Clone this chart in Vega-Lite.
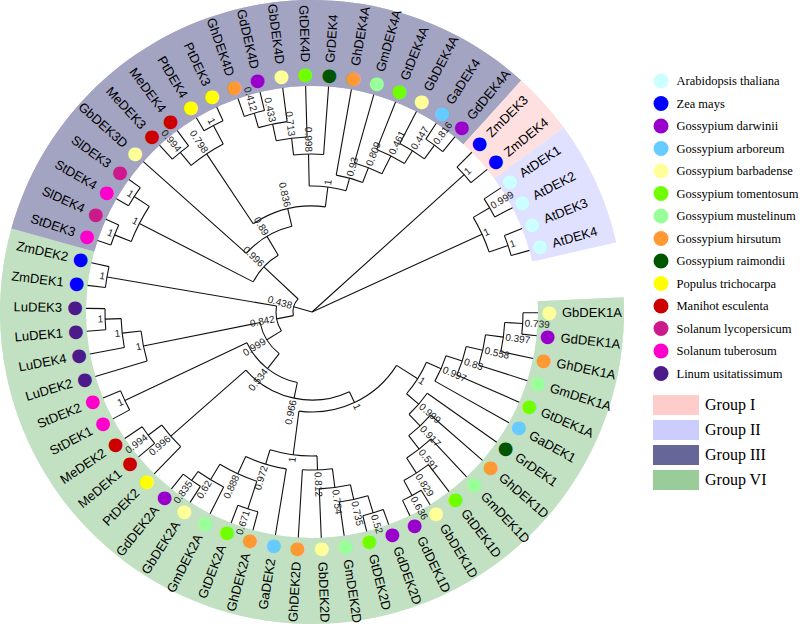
{
  "$schema": "https://vega.github.io/schema/vega-lite/v6.json",
  "width": 624,
  "height": 624,
  "autosize": {"type": "none"},
  "padding": {"left": 0, "top": 0, "right": 176, "bottom": 1},
  "background": "white",
  "config": {"view": {"stroke": null}},
  "datasets": {
    "groups": [
      {"group": "Group VI", "t1": -0.5, "t2": 33.5},
      {"group": "Group III", "t1": 33.5, "t2": 53.5},
      {"group": "Group I", "t1": 53.5, "t2": 55.5},
      {"group": "Group II", "t1": 55.5, "t2": 59.5}
    ],
    "nodes": [
      {"id": "root", "t": 45, "r": 0},
      {"id": "n438", "p": "root", "t": 33.6, "r": 19, "s": "0.438"},
      {"id": "zm34", "p": "root", "t": 54.5, "r": 205, "s": "1"},
      {"id": "at", "p": "root", "t": 57.5, "r": 187, "s": "1"},
      {"id": "at12", "p": "at", "t": 56.5, "r": 206, "s": "0.999"},
      {"id": "at34", "p": "at", "t": 58.5, "r": 207, "s": "1"},
      {"id": "n842", "p": "n438", "t": 28.96, "r": 36, "s": "0.842"},
      {"id": "n996", "p": "n438", "t": 38.25, "r": 66, "s": "0.996"},
      {"id": "zm12", "p": "n842", "t": 32.5, "r": 208, "s": "1"},
      {"id": "n999b", "p": "n842", "t": 25.42, "r": 53, "s": "0.999"},
      {"id": "lu3", "p": "n999b", "t": 28.88, "r": 172, "s": "1"},
      {"id": "lu2", "p": "lu3", "t": 29.75, "r": 191, "s": "1"},
      {"id": "lu1", "p": "lu2", "t": 30.5, "r": 207, "s": "1"},
      {"id": "n534", "p": "n999b", "t": 21.96, "r": 72, "s": "0.534"},
      {"id": "st12", "p": "n534", "t": 26.5, "r": 207, "s": "1"},
      {"id": "n966", "p": "n534", "t": 17.42, "r": 88, "s": "0.966"},
      {"id": "mept", "p": "n966", "t": 23.75, "r": 188, "s": "0.996"},
      {"id": "me12", "p": "mept", "t": 24.5, "r": 205, "s": "0.994"},
      {"id": "cot1", "p": "n966", "t": 11.09, "r": 100, "s": "1"},
      {"id": "dek1", "p": "cot1", "t": 5.5, "r": 125, "s": "1"},
      {"id": "n997", "p": "dek1", "t": 4.03, "r": 141, "s": "0.997"},
      {"id": "n83", "p": "n997", "t": 3.06, "r": 158, "s": "0.83"},
      {"id": "n558", "p": "n83", "t": 2.13, "r": 175, "s": "0.558"},
      {"id": "n397", "p": "n558", "t": 1.25, "r": 193, "s": "0.397"},
      {"id": "n739", "p": "n397", "t": 0.5, "r": 211, "s": "0.739"},
      {"id": "n999", "p": "dek1", "t": 6.97, "r": 141, "s": "0.999"},
      {"id": "n917", "p": "n999", "t": 7.94, "r": 157, "s": "0.917"},
      {"id": "n591", "p": "n917", "t": 8.88, "r": 174, "s": "0.591"},
      {"id": "n829", "p": "n591", "t": 9.75, "r": 192, "s": "0.829"},
      {"id": "n636", "p": "n829", "t": 10.5, "r": 209, "s": "0.636"},
      {"id": "dek2", "p": "cot1", "t": 16.69, "r": 144, "s": "1"},
      {"id": "n812", "p": "dek2", "t": 15.06, "r": 158, "s": "0.812"},
      {"id": "n754", "p": "n812", "t": 14.13, "r": 177, "s": "0.754"},
      {"id": "n735", "p": "n754", "t": 13.25, "r": 192, "s": "0.735"},
      {"id": "n52", "p": "n735", "t": 12.5, "r": 210, "s": "0.52"},
      {"id": "n972", "p": "dek2", "t": 18.31, "r": 159, "s": "0.972"},
      {"id": "n888", "p": "n972", "t": 19.63, "r": 178, "s": "0.888"},
      {"id": "n671", "p": "n888", "t": 18.5, "r": 207, "s": "0.671"},
      {"id": "n62", "p": "n888", "t": 20.75, "r": 196, "s": "0.62"},
      {"id": "n835", "p": "n62", "t": 21.5, "r": 207, "s": "0.835"},
      {"id": "sol", "p": "n996", "t": 35.5, "r": 194, "s": "1"},
      {"id": "sol1", "p": "sol", "t": 34.5, "r": 212, "s": "1"},
      {"id": "sol2", "p": "sol", "t": 36.5, "r": 212, "s": "1"},
      {"id": "n89", "p": "n996", "t": 41.0, "r": 88, "s": "0.89"},
      {"id": "n836", "p": "n89", "t": 44.01, "r": 106, "s": "0.836"},
      {"id": "n798", "p": "n836", "t": 40.5, "r": 190, "s": "0.798"},
      {"id": "me34", "p": "n798", "t": 39.5, "r": 207, "s": "0.994"},
      {"id": "pt34", "p": "n798", "t": 41.5, "r": 211, "s": "1"},
      {"id": "dek4", "p": "n836", "t": 47.52, "r": 126, "s": "1"},
      {"id": "n998", "p": "dek4", "t": 46.06, "r": 158, "s": "0.998"},
      {"id": "n713", "p": "n998", "t": 45.13, "r": 175, "s": "0.713"},
      {"id": "n433", "p": "n713", "t": 44.25, "r": 192, "s": "0.433"},
      {"id": "n412", "p": "n433", "t": 43.5, "r": 207, "s": "0.412"},
      {"id": "n93", "p": "dek4", "t": 48.97, "r": 139, "s": "0.93"},
      {"id": "n809", "p": "n93", "t": 49.94, "r": 155, "s": "0.809"},
      {"id": "n461", "p": "n809", "t": 50.88, "r": 175, "s": "0.461"},
      {"id": "n447", "p": "n461", "t": 51.75, "r": 190, "s": "0.447"},
      {"id": "n816", "p": "n447", "t": 52.5, "r": 207, "s": "0.816"},
      {"id": "L0", "p": "n739", "t": 0, "r": 226, "name": "GbDEK1A", "sp": "Gossypium barbadense"},
      {"id": "L1", "p": "n739", "t": 1, "r": 226, "name": "GdDEK1A", "sp": "Gossypium darwinii"},
      {"id": "L2", "p": "n397", "t": 2, "r": 226, "name": "GhDEK1A", "sp": "Gossypium hirsutum"},
      {"id": "L3", "p": "n558", "t": 3, "r": 226, "name": "GmDEK1A", "sp": "Gossypium mustelinum"},
      {"id": "L4", "p": "n83", "t": 4, "r": 226, "name": "GtDEK1A", "sp": "Gossypium tomentosum"},
      {"id": "L5", "p": "n997", "t": 5, "r": 226, "name": "GaDEK1", "sp": "Gossypium arboreum"},
      {"id": "L6", "p": "n999", "t": 6, "r": 226, "name": "GrDEK1", "sp": "Gossypium raimondii"},
      {"id": "L7", "p": "n917", "t": 7, "r": 226, "name": "GhDEK1D", "sp": "Gossypium hirsutum"},
      {"id": "L8", "p": "n591", "t": 8, "r": 226, "name": "GmDEK1D", "sp": "Gossypium mustelinum"},
      {"id": "L9", "p": "n829", "t": 9, "r": 226, "name": "GtDEK1D", "sp": "Gossypium tomentosum"},
      {"id": "L10", "p": "n636", "t": 10, "r": 226, "name": "GbDEK1D", "sp": "Gossypium barbadense"},
      {"id": "L11", "p": "n636", "t": 11, "r": 226, "name": "GdDEK1D", "sp": "Gossypium darwinii"},
      {"id": "L12", "p": "n52", "t": 12, "r": 226, "name": "GdDEK2D", "sp": "Gossypium darwinii"},
      {"id": "L13", "p": "n52", "t": 13, "r": 226, "name": "GtDEK2D", "sp": "Gossypium tomentosum"},
      {"id": "L14", "p": "n735", "t": 14, "r": 226, "name": "GmDEK2D", "sp": "Gossypium mustelinum"},
      {"id": "L15", "p": "n754", "t": 15, "r": 226, "name": "GbDEK2D", "sp": "Gossypium barbadense"},
      {"id": "L16", "p": "n812", "t": 16, "r": 226, "name": "GhDEK2D", "sp": "Gossypium hirsutum"},
      {"id": "L17", "p": "n972", "t": 17, "r": 226, "name": "GaDEK2", "sp": "Gossypium arboreum"},
      {"id": "L18", "p": "n671", "t": 18, "r": 226, "name": "GhDEK2A", "sp": "Gossypium hirsutum"},
      {"id": "L19", "p": "n671", "t": 19, "r": 226, "name": "GtDEK2A", "sp": "Gossypium tomentosum"},
      {"id": "L20", "p": "n62", "t": 20, "r": 226, "name": "GmDEK2A", "sp": "Gossypium mustelinum"},
      {"id": "L21", "p": "n835", "t": 21, "r": 226, "name": "GbDEK2A", "sp": "Gossypium barbadense"},
      {"id": "L22", "p": "n835", "t": 22, "r": 226, "name": "GdDEK2A", "sp": "Gossypium darwinii"},
      {"id": "L23", "p": "mept", "t": 23, "r": 226, "name": "PtDEK2", "sp": "Populus trichocarpa"},
      {"id": "L24", "p": "me12", "t": 24, "r": 226, "name": "MeDEK1", "sp": "Manihot esculenta"},
      {"id": "L25", "p": "me12", "t": 25, "r": 226, "name": "MeDEK2", "sp": "Manihot esculenta"},
      {"id": "L26", "p": "st12", "t": 26, "r": 226, "name": "StDEK1", "sp": "Solanum tuberosum"},
      {"id": "L27", "p": "st12", "t": 27, "r": 226, "name": "StDEK2", "sp": "Solanum tuberosum"},
      {"id": "L28", "p": "lu3", "t": 28, "r": 226, "name": "LuDEK2", "sp": "Linum usitatissimum"},
      {"id": "L29", "p": "lu2", "t": 29, "r": 226, "name": "LuDEK4", "sp": "Linum usitatissimum"},
      {"id": "L30", "p": "lu1", "t": 30, "r": 226, "name": "LuDEK1", "sp": "Linum usitatissimum"},
      {"id": "L31", "p": "lu1", "t": 31, "r": 226, "name": "LuDEK3", "sp": "Linum usitatissimum"},
      {"id": "L32", "p": "zm12", "t": 32, "r": 226, "name": "ZmDEK1", "sp": "Zea mays"},
      {"id": "L33", "p": "zm12", "t": 33, "r": 226, "name": "ZmDEK2", "sp": "Zea mays"},
      {"id": "L34", "p": "sol1", "t": 34, "r": 226, "name": "StDEK3", "sp": "Solanum tuberosum"},
      {"id": "L35", "p": "sol1", "t": 35, "r": 226, "name": "SlDEK4", "sp": "Solanum lycopersicum"},
      {"id": "L36", "p": "sol2", "t": 36, "r": 226, "name": "StDEK4", "sp": "Solanum tuberosum"},
      {"id": "L37", "p": "sol2", "t": 37, "r": 226, "name": "SlDEK3", "sp": "Solanum lycopersicum"},
      {"id": "L38", "p": "n89", "t": 38, "r": 226, "name": "GbDEK3D", "sp": "Gossypium barbadense"},
      {"id": "L39", "p": "me34", "t": 39, "r": 226, "name": "MeDEK3", "sp": "Manihot esculenta"},
      {"id": "L40", "p": "me34", "t": 40, "r": 226, "name": "MeDEK4", "sp": "Manihot esculenta"},
      {"id": "L41", "p": "pt34", "t": 41, "r": 226, "name": "PtDEK4", "sp": "Populus trichocarpa"},
      {"id": "L42", "p": "pt34", "t": 42, "r": 226, "name": "PtDEK3", "sp": "Populus trichocarpa"},
      {"id": "L43", "p": "n412", "t": 43, "r": 226, "name": "GhDEK4D", "sp": "Gossypium hirsutum"},
      {"id": "L44", "p": "n412", "t": 44, "r": 226, "name": "GdDEK4D", "sp": "Gossypium darwinii"},
      {"id": "L45", "p": "n433", "t": 45, "r": 226, "name": "GbDEK4D", "sp": "Gossypium barbadense"},
      {"id": "L46", "p": "n713", "t": 46, "r": 226, "name": "GtDEK4D", "sp": "Gossypium tomentosum"},
      {"id": "L47", "p": "n998", "t": 47, "r": 226, "name": "GrDEK4", "sp": "Gossypium raimondii"},
      {"id": "L48", "p": "n93", "t": 48, "r": 226, "name": "GhDEK4A", "sp": "Gossypium hirsutum"},
      {"id": "L49", "p": "n809", "t": 49, "r": 226, "name": "GmDEK4A", "sp": "Gossypium mustelinum"},
      {"id": "L50", "p": "n461", "t": 50, "r": 226, "name": "GtDEK4A", "sp": "Gossypium tomentosum"},
      {"id": "L51", "p": "n447", "t": 51, "r": 226, "name": "GbDEK4A", "sp": "Gossypium barbadense"},
      {"id": "L52", "p": "n816", "t": 52, "r": 226, "name": "GaDEK4", "sp": "Gossypium arboreum"},
      {"id": "L53", "p": "n816", "t": 53, "r": 226, "name": "GdDEK4A", "sp": "Gossypium darwinii"},
      {"id": "L54", "p": "zm34", "t": 54, "r": 226, "name": "ZmDEK3", "sp": "Zea mays"},
      {"id": "L55", "p": "zm34", "t": 55, "r": 226, "name": "ZmDEK4", "sp": "Zea mays"},
      {"id": "L56", "p": "at12", "t": 56, "r": 226, "name": "AtDEK1", "sp": "Arabidopsis thaliana"},
      {"id": "L57", "p": "at12", "t": 57, "r": 226, "name": "AtDEK2", "sp": "Arabidopsis thaliana"},
      {"id": "L58", "p": "at34", "t": 58, "r": 226, "name": "AtDEK3", "sp": "Arabidopsis thaliana"},
      {"id": "L59", "p": "at34", "t": 59, "r": 226, "name": "AtDEK4", "sp": "Arabidopsis thaliana"}
    ]
  },
  "layer": [
    {
      "data": {"name": "groups"},
      "mark": {"type": "arc", "strokeWidth": 0},
      "encoding": {
        "theta": {"field": "t1", "type": "quantitative", "stack": null, "scale": {"domain": [0, 60], "range": [1.57429, 7.67945], "zero": false, "nice": false}},
        "theta2": {"field": "t2"},
        "radius": {"datum": 226, "type": "quantitative", "scale": {"type": "linear", "domain": [0, 312], "range": [0, 312], "zero": true, "nice": false}},
        "radius2": {"datum": 312},
        "fill": {"field": "group", "type": "nominal",
          "scale": {"domain": ["Group I", "Group II", "Group III", "Group VI"], "range": ["#ffcccc", "#ccccff", "#666699", "#99cc99"]},
          "legend": {"title": null, "orient": "none", "legendX": 666, "legendY": 395, "padding": 0,
            "symbolType": "M-2.3,-1H2.3V1H-2.3Z", "symbolSize": 400, "symbolStrokeWidth": 0,
            "labelFont": "Liberation Serif", "labelFontSize": 16, "labelColor": "#000", "rowPadding": 5, "labelOffset": 19}}
      }
    },
    {
      "data": {"name": "groups"},
      "mark": {"type": "arc", "fill": "#ffffff", "opacity": 0.4, "strokeWidth": 0},
      "encoding": {
        "theta": {"field": "t1", "type": "quantitative", "stack": null, "scale": {"domain": [0, 60], "range": [1.57429, 7.67945], "zero": false, "nice": false}},
        "theta2": {"field": "t2"},
        "radius": {"datum": 226, "type": "quantitative", "scale": {"type": "linear", "domain": [0, 312], "range": [0, 312], "zero": true, "nice": false}},
        "radius2": {"datum": 312}
      }
    },
    {
      "data": {"name": "nodes"},
      "transform": [
        {"filter": "datum.p != null"},
        {"lookup": "p", "from": {"data": {"name": "nodes"}, "key": "id", "fields": ["r"]}, "as": ["pr"]}
      ],
      "mark": {"type": "arc", "fillOpacity": 0, "stroke": "#111111", "strokeWidth": 1.1},
      "encoding": {
        "theta": {"field": "t", "type": "quantitative", "stack": null, "scale": {"domain": [0, 60], "range": [1.57429, 7.67945], "zero": false, "nice": false}},
        "theta2": {"field": "t"},
        "radius": {"field": "pr", "type": "quantitative", "scale": {"type": "linear", "domain": [0, 312], "range": [0, 312], "zero": true, "nice": false}},
        "radius2": {"field": "r"}
      }
    },
    {
      "data": {"name": "nodes"},
      "transform": [
        {"filter": "datum.p != null"},
        {"aggregate": [{"op": "min", "field": "t", "as": "t1"}, {"op": "max", "field": "t", "as": "t2"}], "groupby": ["p"]},
        {"lookup": "p", "from": {"data": {"name": "nodes"}, "key": "id", "fields": ["r"]}}
      ],
      "mark": {"type": "arc", "fillOpacity": 0, "stroke": "#111111", "strokeWidth": 1.1},
      "encoding": {
        "theta": {"field": "t1", "type": "quantitative", "stack": null, "scale": {"domain": [0, 60], "range": [1.57429, 7.67945], "zero": false, "nice": false}},
        "theta2": {"field": "t2"},
        "radius": {"field": "r", "type": "quantitative", "scale": {"type": "linear", "domain": [0, 312], "range": [0, 312], "zero": true, "nice": false}},
        "radius2": {"field": "r"}
      }
    },
    {
      "data": {"name": "nodes"},
      "transform": [{"filter": "datum.name"}],
      "mark": {"type": "text", "text": "●", "font": "DejaVu Sans", "fontSize": 18, "align": "center", "baseline": "middle"},
      "encoding": {
        "theta": {"field": "t", "type": "quantitative", "stack": null, "scale": {"domain": [0, 60], "range": [1.57429, 7.67945], "zero": false, "nice": false}},
        "radius": {"datum": 237, "type": "quantitative", "scale": {"type": "linear", "domain": [0, 312], "range": [0, 312], "zero": true, "nice": false}},
        "color": {"field": "sp", "type": "nominal",
          "scale": {"domain": ["Arabidopsis thaliana", "Zea mays", "Gossypium darwinii", "Gossypium arboreum", "Gossypium barbadense", "Gossypium tomentosum", "Gossypium mustelinum", "Gossypium hirsutum", "Gossypium raimondii", "Populus trichocarpa", "Manihot esculenta", "Solanum lycopersicum", "Solanum tuberosum", "Linum usitatissimum"],
                    "range": ["#ccffff", "#0000ff", "#9900cc", "#66ccff", "#ffff99", "#70ff00", "#99ff99", "#ff9933", "#005500", "#ffff00", "#cc0000", "#cc1a8c", "#ff00cc", "#4d1a8c"]},
          "legend": {"title": null, "orient": "none", "legendX": 653.5, "legendY": 73.5, "padding": 0,
            "symbolType": "circle", "symbolSize": 225, "symbolStrokeWidth": 0,
            "labelFont": "Liberation Serif", "labelFontSize": 12.5, "labelColor": "#000", "rowPadding": 7.5, "labelOffset": 8, "labelLimit": 130}}
      }
    },
    {
      "data": {"name": "nodes"},
      "transform": [{"filter": "datum.name && (datum.t < 15.403 || datum.t >= 46.278)"}],
      "mark": {"type": "text", "font": "Liberation Sans", "fontSize": 13, "align": "left", "baseline": "middle", "fill": "#000"},
      "encoding": {
        "theta": {"field": "t", "type": "quantitative", "stack": null, "scale": {"domain": [0, 60], "range": [1.57429, 7.67945], "zero": false, "nice": false}},
        "radius": {"datum": 250, "type": "quantitative", "scale": {"type": "linear", "domain": [0, 312], "range": [0, 312], "zero": true, "nice": false}},
        "angle": {"field": "t", "type": "quantitative", "legend": null, "scale": {"domain": [-1, 15.403, 15.403, 46.278, 46.278, 61], "range": [-5.63, 90, -90, 90, -90, -4.17], "zero": false, "nice": false}},
        "text": {"field": "name"}
      }
    },
    {
      "data": {"name": "nodes"},
      "transform": [{"filter": "datum.name && datum.t >= 15.403 && datum.t < 46.278"}],
      "mark": {"type": "text", "font": "Liberation Sans", "fontSize": 13, "align": "right", "baseline": "middle", "fill": "#000"},
      "encoding": {
        "theta": {"field": "t", "type": "quantitative", "stack": null, "scale": {"domain": [0, 60], "range": [1.57429, 7.67945], "zero": false, "nice": false}},
        "radius": {"datum": 250, "type": "quantitative", "scale": {"type": "linear", "domain": [0, 312], "range": [0, 312], "zero": true, "nice": false}},
        "angle": {"field": "t", "type": "quantitative", "legend": null, "scale": {"domain": [-1, 15.403, 15.403, 46.278, 46.278, 61], "range": [-5.63, 90, -90, 90, -90, -4.17], "zero": false, "nice": false}},
        "text": {"field": "name"}
      }
    },
    {
      "data": {"name": "nodes"},
      "transform": [{"filter": "datum.s && (datum.t < 15.403 || datum.t >= 46.278)"}],
      "mark": {"type": "text", "font": "Liberation Sans", "fontSize": 10, "align": "left", "baseline": "middle", "dx": 2, "fill": "#222"},
      "encoding": {
        "theta": {"field": "t", "type": "quantitative", "stack": null, "scale": {"domain": [0, 60], "range": [1.57429, 7.67945], "zero": false, "nice": false}},
        "radius": {"field": "r", "type": "quantitative", "scale": {"type": "linear", "domain": [0, 312], "range": [0, 312], "zero": true, "nice": false}},
        "angle": {"field": "t", "type": "quantitative", "legend": null, "scale": {"domain": [-1, 15.403, 15.403, 46.278, 46.278, 61], "range": [-5.63, 90, -90, 90, -90, -4.17], "zero": false, "nice": false}},
        "text": {"field": "s"}
      }
    },
    {
      "data": {"name": "nodes"},
      "transform": [{"filter": "datum.s && datum.t >= 15.403 && datum.t < 46.278"}],
      "mark": {"type": "text", "font": "Liberation Sans", "fontSize": 10, "align": "right", "baseline": "middle", "dx": -2, "fill": "#222"},
      "encoding": {
        "theta": {"field": "t", "type": "quantitative", "stack": null, "scale": {"domain": [0, 60], "range": [1.57429, 7.67945], "zero": false, "nice": false}},
        "radius": {"field": "r", "type": "quantitative", "scale": {"type": "linear", "domain": [0, 312], "range": [0, 312], "zero": true, "nice": false}},
        "angle": {"field": "t", "type": "quantitative", "legend": null, "scale": {"domain": [-1, 15.403, 15.403, 46.278, 46.278, 61], "range": [-5.63, 90, -90, 90, -90, -4.17], "zero": false, "nice": false}},
        "text": {"field": "s"}
      }
    }
  ]
}
